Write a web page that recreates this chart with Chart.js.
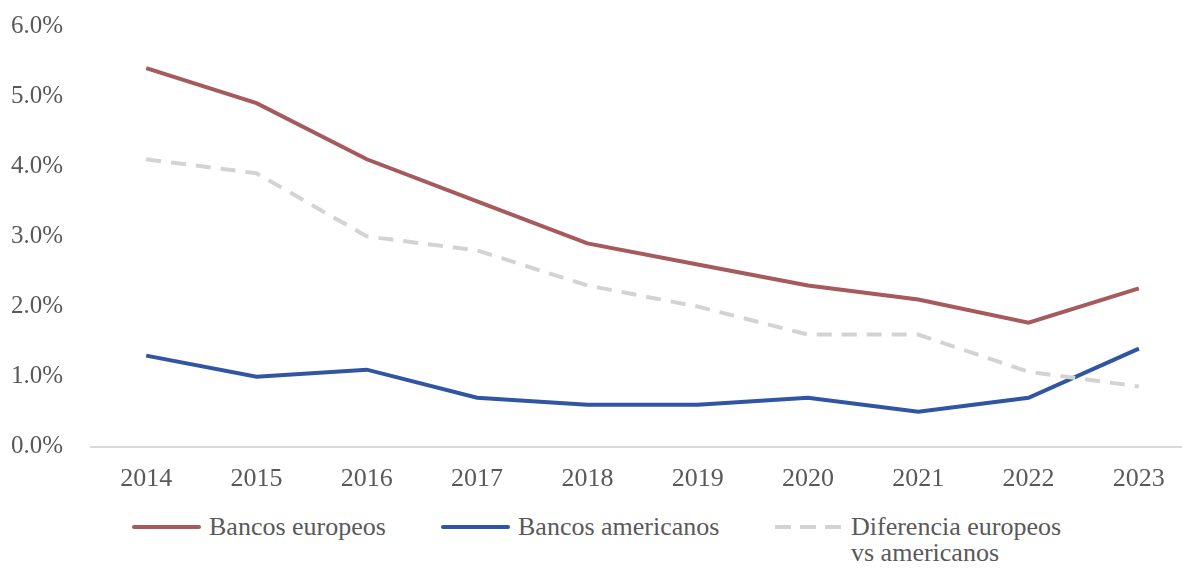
<!DOCTYPE html>
<html>
<head>
<meta charset="utf-8">
<script src="https://cdn.jsdelivr.net/npm/chart.js@4"></script>
<style>
  html, body { margin:0; padding:0; background:#fff; }
  body { width:1182px; height:569px; overflow:hidden; position:relative; font-family:"Liberation Serif","Times New Roman",serif; color:#595959; }
  #wrap { position:absolute; left:-20px; top:-9px; width:1220px; height:519px; }
  .leg { position:absolute; font-size:26px; line-height:26px; white-space:nowrap; }
  .sw { position:absolute; height:4px; border-radius:2px; }
</style>
</head>
<body>
<div id="wrap"><canvas id="chart" width="1220" height="519"></canvas></div>

<div class="sw" style="left:132px;top:525px;width:69px;background:#A65A5B"></div>
<div class="leg" style="left:209px;top:514px">Bancos europeos</div>
<div class="sw" style="left:441px;top:525px;width:69px;background:#2F55A3"></div>
<div class="leg" style="left:518px;top:514px">Bancos americanos</div>
<div class="sw" style="left:775px;top:525px;width:66px;border-radius:0;background:repeating-linear-gradient(to right,#D3D3D3 0 16px,transparent 16px 25px)"></div>
<div class="leg" style="left:851px;top:514px">Diferencia europeos<br>vs americanos</div>

<script>
// datos (%)
const years = ["2014","2015","2016","2017","2018","2019","2020","2021","2022","2023"];
const bancosEuropeos = [5.4, 4.9, 4.1, 3.5, 2.9, 2.6, 2.3, 2.1, 1.77, 2.26];
const bancosAmericanos = [1.3, 1.0, 1.1, 0.7, 0.6, 0.6, 0.7, 0.5, 0.7, 1.4];
const diferencia = [4.1, 3.9, 3.0, 2.8, 2.3, 2.0, 1.6, 1.6, 1.07, 0.86];

const txt = '#595959';
const font = "'Liberation Serif', 'Times New Roman', serif";

let ctx = document.getElementById('chart').getContext('2d');
new Chart(ctx, {
  type: 'line',
  data: {
    labels: years,
    datasets: [
      {label:'Bancos europeos', data:bancosEuropeos, borderColor:'#A65A5B', borderWidth:4, pointRadius:0, tension:0, order:2},
      {label:'Bancos americanos', data:bancosAmericanos, borderColor:'#2F55A3', borderWidth:4, pointRadius:0, tension:0, order:1},
      {label:'Diferencia europeos vs americanos', data:diferencia, borderColor:'#D3D3D3', borderWidth:4, borderDash:[15,10], pointRadius:0, tension:0, order:0}
    ]
  },
  options: {
    animation:false, responsive:false,
    layout:{padding:{left:11, right:6, top:0, bottom:6}},
    plugins:{legend:{display:false}, tooltip:{enabled:false}},
    scales:{
      x:{
        offset:true,
        grid:{display:false, offset:true},
        border:{display:true, color:'#D9D9D9', width:2},
        ticks:{color:txt, font:{family:font, size:26}, padding:9}
      },
      y:{
        min:0, max:6,
        grid:{display:false},
        border:{display:false},
        ticks:{stepSize:1, color:txt, font:{family:font, size:25}, padding:20,
          callback:v => v.toFixed(1) + '%'}
      }
    }
  }
});
</script>
</body>
</html>
